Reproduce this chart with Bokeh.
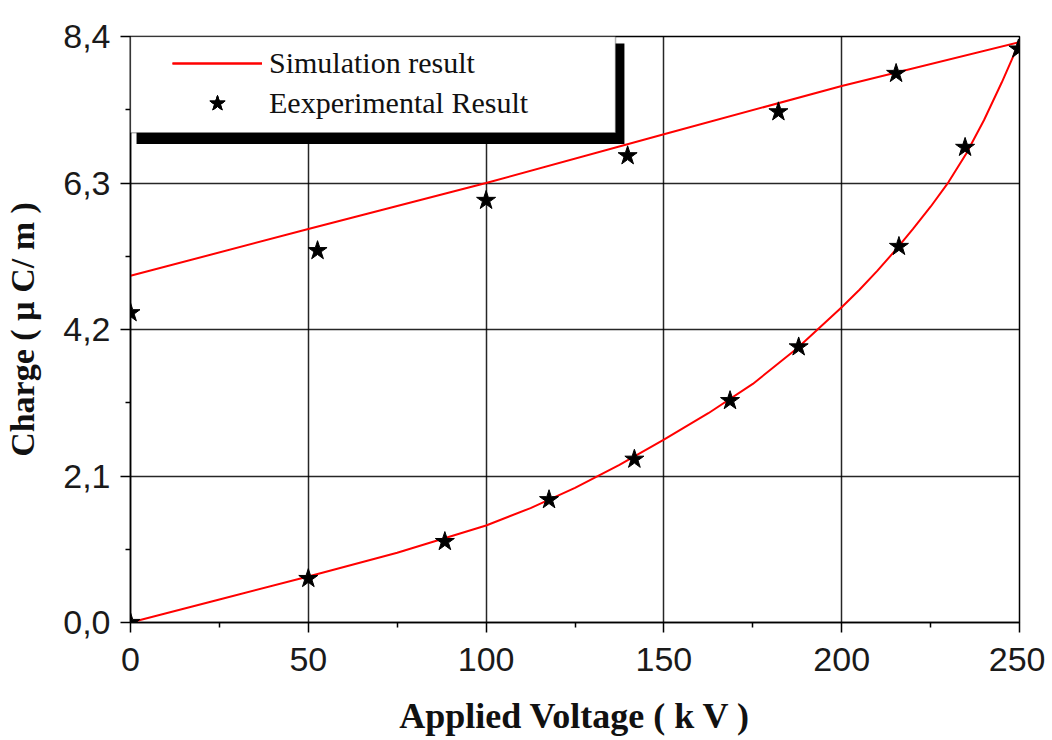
from bokeh.plotting import figure
from bokeh.models import Range1d, FixedTicker, Legend, LegendItem, BoxAnnotation
from bokeh.embed import file_html
from bokeh.resources import INLINE

# ---------------- data ----------------
# Simulation result (hysteresis loop): upper branch and lower branch
sim_up_v = [0, 50, 100, 150, 200, 250]
sim_up_q = [4.97, 5.64, 6.30, 7.00, 7.69, 8.32]

sim_low_v = [0, 25, 50, 75, 100, 112.5, 125, 137.5, 150, 162.5, 175, 187.5,
             200, 205, 210, 215, 220, 225, 230, 235, 240, 245, 250]
sim_low_q = [0.0, 0.33, 0.66, 1.00, 1.39, 1.64, 1.93, 2.26, 2.62, 3.00, 3.42, 3.93,
             4.52, 4.77, 5.04, 5.33, 5.64, 5.96, 6.31, 6.72, 7.20, 7.74, 8.32]

# Experimental result
exp_up_v = [0, 52.6, 100, 139.8, 182.2, 215.3]
exp_up_q = [4.44, 5.33, 6.05, 6.69, 7.32, 7.87]

exp_low_v = [0, 50, 88.4, 117.7, 141.7, 168.6, 187.9, 216.1, 234.7, 249.7]
exp_low_q = [0.0, 0.63, 1.16, 1.76, 2.34, 3.18, 3.95, 5.39, 6.81, 8.22]

x_ticks = [0, 50, 100, 150, 200, 250]
x_minor = [25, 75, 125, 175, 225]
y_ticks = [0.0, 2.1, 4.2, 6.3, 8.4]
y_labels = ["0,0", "2,1", "4,2", "6,3", "8,4"]
y_minor = [1.05, 3.15, 5.25, 7.35]

series_names = ["Simulation result", "Eexperimental Result"]

# ---------------- figure ----------------
p = figure(width=1045, height=738,
           x_range=Range1d(0, 250), y_range=Range1d(0, 8.4),
           output_backend="svg", toolbar_location=None,
           min_border_left=130, min_border_right=26,
           min_border_top=36, min_border_bottom=116,
           x_axis_label="Applied Voltage ( k V )",
           y_axis_label="Charge ( µ C/ m )")

p.outline_line_color = "black"
p.outline_line_width = 1.5
p.background_fill_color = "white"
p.border_fill_color = "white"

p.xaxis.ticker = FixedTicker(ticks=x_ticks, minor_ticks=x_minor)
p.yaxis.ticker = FixedTicker(ticks=y_ticks, minor_ticks=y_minor)
p.yaxis.major_label_overrides = {t: s for t, s in zip(y_ticks, y_labels)}

for ax in p.axis:
    ax.axis_line_color = "black"
    ax.axis_line_width = 1.5
    ax.major_tick_line_color = "black"
    ax.major_tick_line_width = 1.5
    ax.minor_tick_line_color = "black"
    ax.minor_tick_line_width = 1.5
    ax.major_tick_out = 10
    ax.major_tick_in = 0
    ax.minor_tick_out = 5
    ax.minor_tick_in = 0
    ax.major_label_text_font = "Liberation Sans"
    ax.major_label_text_font_size = "34px"
    ax.major_label_text_color = "#1a1a1a"
    ax.axis_label_text_font = "Liberation Serif"
    ax.axis_label_text_font_style = "bold"
    ax.axis_label_text_color = "#111111"

p.xaxis.major_label_standoff = 15
p.yaxis.major_label_standoff = 10
p.xaxis.axis_label_text_font_size = "36px"
p.yaxis.axis_label_text_font_size = "34px"
p.xaxis.axis_label_standoff = 22
p.yaxis.axis_label_standoff = 19

p.grid.grid_line_color = "black"
p.grid.grid_line_width = 1.5
p.grid.grid_line_alpha = 0.85

# ---------------- glyphs ----------------
r_up = p.line(sim_up_v, sim_up_q, line_color="#ff0000", line_width=2)
r_low = p.line(sim_low_v, sim_low_q, line_color="#ff0000", line_width=2)
s_up = p.scatter(exp_up_v, exp_up_q, marker="star", size=20,
                 fill_color="black", line_color="black")
s_low = p.scatter(exp_low_v, exp_low_q, marker="star", size=20,
                  fill_color="black", line_color="black")

# ---------------- legend (box with shadow) ----------------
shadow = BoxAnnotation(left=1.7, right=138.9, bottom=6.86, top=8.30,
                       fill_color="black", fill_alpha=1.0,
                       line_alpha=0)
box = BoxAnnotation(left=0, right=136.4, bottom=7.02, top=8.4,
                    fill_color="white", fill_alpha=1.0,
                    line_color="black", line_width=1.5)
p.add_layout(shadow)
p.add_layout(box)

legend = Legend(items=[LegendItem(label=series_names[0], renderers=[r_up, r_low]),
                       LegendItem(label=series_names[1], renderers=[s_up, s_low])],
                location=(42, 499), padding=0, margin=0, spacing=0,
                glyph_width=90, glyph_height=40, label_standoff=7,
                label_text_font="Liberation Serif", label_text_font_size="30px",
                label_text_color="#111111",
                border_line_alpha=0, background_fill_alpha=0)
p.add_layout(legend)

open("out.html", "w").write(file_html(p, INLINE))
